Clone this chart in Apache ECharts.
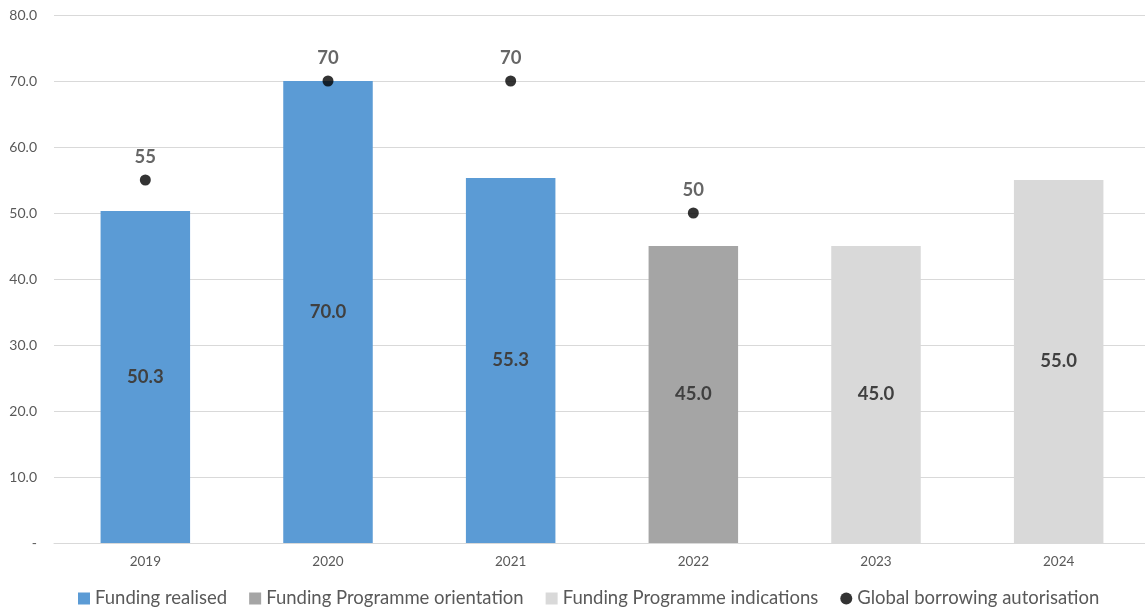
<!DOCTYPE html>
<html>
<head>
<meta charset="utf-8">
<script src="https://cdn.jsdelivr.net/npm/echarts@6/dist/echarts.min.js"></script>
<style>
  html, body { margin: 0; padding: 0; background: #fff; }
  #chart { width: 1145px; height: 612px; }
</style>
</head>
<body>
<div id="chart"></div>
<script>
const years = ['2019', '2020', '2021', '2022', '2023', '2024']
const fundingRealised = [50.3, 70.0, 55.3, null, null, null]
const programmeOrientation = [null, null, null, 45.0, null, null]
const programmeIndications = [null, null, null, null, 45.0, 55.0]
const borrowingAuthorisation = [55, 70, 70, 50, null, null]
const yTicks = [0, 10, 20, 30, 40, 50, 60, 70, 80]

const font = 'Lato, "Open Sans", sans-serif'
const labelStyle = {
  show: true,
  position: 'inside',
  fontFamily: font,
  fontSize: 18.5,
  fontWeight: 'bold',
  color: '#404040',
  formatter: (p) => p.value.toFixed(1)
}

const chart = echarts.init(document.getElementById('chart'))

chart.setOption({
  animation: false,
  textStyle: { fontFamily: font },
  grid: { left: 54, width: 1096, top: 15, bottom: 69, outerBoundsMode: 'none' },
  legend: {
    bottom: -1,
    left: 73,
    itemGap: 22,
    itemWidth: 12,
    itemHeight: 12,
    textStyle: { fontFamily: font, fontSize: 18.5, color: '#595959' },
    data: [
      { name: 'Funding realised', icon: 'rect' },
      { name: 'Funding Programme orientation', icon: 'rect' },
      { name: 'Funding Programme indications', icon: 'rect' },
      { name: 'Global borrowing autorisation', icon: 'circle' }
    ]
  },
  xAxis: {
    type: 'category',
    data: years,
    axisLine: { lineStyle: { color: '#d9d9d9' } },
    axisTick: { show: false },
    axisLabel: { color: '#595959', fontSize: 13.5, margin: 12 }
  },
  yAxis: {
    type: 'value',
    min: yTicks[0],
    max: yTicks[yTicks.length - 1],
    interval: 10,
    axisLine: { show: false },
    axisTick: { show: false },
    splitLine: { lineStyle: { color: '#d9d9d9' } },
    axisLabel: {
      color: '#595959',
      fontSize: 14,
      margin: 17,
      formatter: (v) => (v === 0 ? '-' : v.toFixed(1))
    }
  },
  series: [
    {
      name: 'Funding realised',
      type: 'bar',
      stack: 'fund',
      barWidth: '49%',
      data: fundingRealised,
      itemStyle: { color: '#5b9bd5' },
      label: labelStyle
    },
    {
      name: 'Funding Programme orientation',
      type: 'bar',
      stack: 'fund',
      barWidth: '49%',
      data: programmeOrientation,
      itemStyle: { color: '#a5a5a5' },
      label: labelStyle
    },
    {
      name: 'Funding Programme indications',
      type: 'bar',
      stack: 'fund',
      barWidth: '49%',
      data: programmeIndications,
      itemStyle: { color: '#d9d9d9' },
      label: labelStyle
    },
    {
      name: 'Global borrowing autorisation',
      type: 'scatter',
      data: borrowingAuthorisation,
      symbol: 'circle',
      symbolSize: 11,
      z: 5,
      itemStyle: { color: '#000' },
      label: {
        show: true,
        position: 'top',
        distance: 8,
        fontFamily: font,
        fontSize: 18.5,
        fontWeight: 'bold',
        color: '#404040'
      }
    }
  ]
})
</script>
</body>
</html>
